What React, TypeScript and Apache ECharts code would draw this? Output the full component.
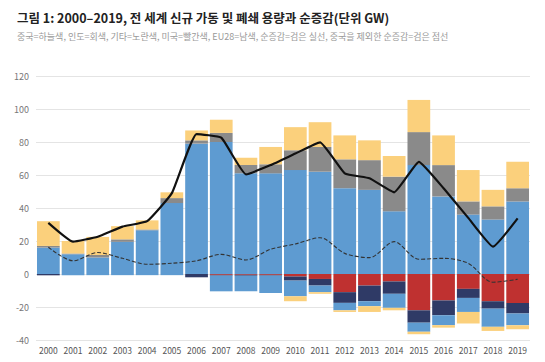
import React, { useEffect, useRef } from "react";
import * as echarts from "echarts";

const years = ["2000","2001","2002","2003","2004","2005","2006","2007","2008","2009","2010","2011","2012","2013","2014","2015","2016","2017","2018","2019"];
// additions (positive)
const chinaAdd = [16, 12, 10, 19.5, 26.5, 43, 79, 80, 61, 61, 63, 62, 52, 51, 38, 66, 47, 36, 33, 44];
const indiaAdd = [1, 0.5, 1.5, 1.5, 0.5, 3, 2, 5.5, 5, 5.5, 12, 15, 17.5, 18, 21, 20, 19, 8, 8, 8];
const otherAdd = [15, 7.5, 11, 8, 5.5, 3.5, 6, 8, 4.5, 10.5, 14, 15, 14.5, 12, 12.5, 19.5, 18, 19, 10, 16];
// retirements (negative)
const usRet = [0, 0, 0, 0, 0, 0, 0, -0.5, -0.5, -0.5, -1.5, -3, -11, -7, -4.5, -22, -16, -9, -16.5, -17.5];
const euRet = [-0.8, 0, 0, 0, 0, 0, -2, -0.5, -0.5, -0.5, -2.5, -4, -6.5, -9.5, -7.5, -7.5, -9, -5.5, -4.5, -6.5];
const chinaRet = [0, -0.7, -0.7, -0.7, -0.7, -0.7, 0, -9.5, -9.5, -10.5, -9.5, -4, -4.5, -3, -8.5, -5.5, -6, -8.5, -11, -7];
const otherRet = [0, 0, 0, 0, 0, 0, 0, 0, 0, 0, -3, -1, -1, -3.5, -1.5, -1.5, -1.5, -7, -2.5, -2.5];
// lines
const netChange = [31, 19.6, 22.6, 28.7, 32, 49, 84.8, 82.6, 60.4, 66, 73, 79.8, 61, 58, 49.5, 68, 52, 34, 16.6, 33.7];
const netExChina = [16.2, 8, 13, 9.5, 5.9, 6.5, 8, 11.9, 8.5, 15, 18.2, 22, 12.5, 9.9, 19.6, 8.9, 9.5, 6.5, -5, -3.2];

const BLUE = "#5e9bd1";
const GRAY = "#8a8a8a";
const YELLOW = "#fbd07c";
const RED = "#bf3130";
const NAVY = "#2f3a66";

const FONT = "'Noto Sans CJK KR', 'Noto Sans', sans-serif";

export default function App() {
  const ref = useRef<HTMLDivElement>(null);
  useEffect(() => {
    if (!ref.current) return;
    const chart = echarts.init(ref.current, undefined, { renderer: "svg" });
    const bar = (name: string, data: number[], color: string) => ({
      name,
      type: "bar",
      stack: "total",
      data,
      barCategoryGap: "8%",
      itemStyle: { color },
    });
    chart.setOption({
      animation: false,
      textStyle: { fontFamily: FONT },
      title: [
        {
          text: "그림 1: 2000–2019, 전 세계 신규 가동 및 폐쇄 용량과 순증감(단위 GW)",
          left: 12,
          top: 6,
          textStyle: { fontSize: 12.5, fontWeight: "bold", color: "#222", fontFamily: FONT },
        },
        {
          text: "중국=하늘색, 인도=회색, 기타=노란색, 미국=빨간색, EU28=남색, 순증감=검은 실선, 중국을 제외한 순증감=검은 점선",
          left: 12,
          top: 27,
          textStyle: { fontSize: 9, fontWeight: "normal", color: "#999", fontFamily: FONT },
        },
      ],
      grid: { left: 36, right: 15, top: 76, bottom: 22 },
      xAxis: {
        type: "category",
        data: years,
        axisLine: { show: false, onZero: false },
        axisTick: { show: false },
        axisLabel: { color: "#555", fontSize: 8.5, margin: 6, interval: 0, hideOverlap: false, fontFamily: FONT },
      },
      yAxis: {
        type: "value",
        min: -40,
        max: 120,
        interval: 20,
        axisLine: { show: false },
        axisTick: { show: false },
        axisLabel: { color: "#777", fontSize: 9, margin: 7, fontFamily: FONT },
        splitLine: { lineStyle: { color: "#e4e4e4", width: 1 } },
      },
      series: [
        bar("중국", chinaAdd, BLUE),
        bar("인도", indiaAdd, GRAY),
        bar("기타", otherAdd, YELLOW),
        bar("미국 폐쇄", usRet, RED),
        bar("EU28 폐쇄", euRet, NAVY),
        bar("중국 폐쇄", chinaRet, BLUE),
        bar("기타 폐쇄", otherRet, YELLOW),
        {
          name: "순증감",
          type: "line",
          data: netChange,
          symbol: "none",
          smooth: 0.12,
          z: 5,
          lineStyle: { color: "#111", width: 2.2 },
        },
        {
          name: "중국을 제외한 순증감",
          type: "line",
          data: netExChina,
          symbol: "none",
          smooth: 0.3,
          z: 5,
          lineStyle: { color: "#333", width: 1.1, type: [4, 2] },
        },
      ],
    });
    return () => chart.dispose();
  }, []);
  return (
    <div
      ref={ref}
      style={{ position: "fixed", left: 0, top: 0, width: 545, height: 362, background: "#fff" }}
    />
  );
}
